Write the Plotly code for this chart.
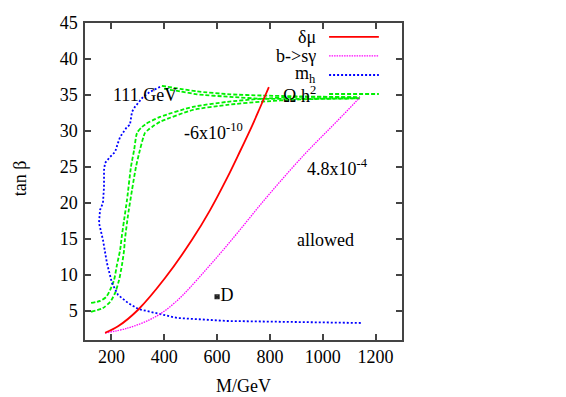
import plotly.graph_objects as go

# ---- data ----
red_x = [176, 225, 301, 403, 505, 573, 638, 687, 732, 762, 796]
red_y = [2.0, 2.9, 5.2, 9.6, 14.9, 19.0, 23.5, 27.2, 30.7, 33.2, 36.1]

mag_x = [176, 263, 346, 403, 460, 497, 558, 619, 687, 762, 838, 925, 990, 1054, 1141]
mag_y = [1.97, 2.67, 3.83, 5.08, 6.85, 8.26, 10.76, 13.32, 16.31, 19.69, 22.96, 26.53, 29.0, 31.37, 34.68]

blue_x = [384, 346, 320, 289, 278, 270, 259, 233, 225, 214, 195, 176, 172, 172, 168, 157, 153,
          161, 168, 183, 202, 225, 263, 301, 354, 403, 448, 638, 838, 1148]
blue_y = [36.14, 35.44, 34.75, 33.36, 32.67, 30.86, 30.58, 29.19, 28.36, 27.11, 26.42, 25.58,
          24.61, 22.25, 20.03, 19.06, 17.25, 15.86, 14.89, 11.69, 8.92, 7.25, 6.14, 5.31, 4.89,
          4.47, 4.06, 3.64, 3.5, 3.36]

g1_x = [123, 157, 180, 195, 210, 221, 233, 240, 248, 259, 274, 286, 297, 316, 331, 384, 509, 638, 762, 914, 1141]
g1_y = [6.14, 6.42, 6.97, 7.94, 9.33, 11.42, 13.5, 15.58, 17.67, 20.44, 25.03, 27.39, 29.75, 30.58,
        31.0, 31.97, 33.36, 34.06, 34.47, 34.75, 34.68]
g2_x = [123, 168, 195, 214, 229, 240, 248, 251, 263, 278, 293, 308, 327, 339, 354, 384, 509, 638, 762, 914, 1141]
g2_y = [4.89, 5.44, 6.28, 7.53, 9.33, 11.42, 13.5, 14.89, 18.36, 21.83, 25.03, 27.39, 29.75, 30.17,
        30.58, 31.28, 32.94, 33.64, 34.06, 34.4, 34.54]
g3_x = [391, 460, 524, 649, 774, 914, 1141]
g3_y = [36.28, 35.86, 35.51, 35.1, 34.93, 34.82, 34.68]
g4_x = [399, 460, 524, 649, 774, 914, 1141]
g4_y = [35.86, 35.51, 35.1, 34.75, 34.47, 34.47, 34.54]

point_x = [600]
point_y = [7]
point_label = ["D"]

x_ticks = [200, 400, 600, 800, 1000, 1200]
y_ticks = [5, 10, 15, 20, 25, 30, 35, 40, 45]

legend_names = ["δμ", "b->sγ", "m<sub>h</sub>", "Ω h<sup>2</sup>"]

FONT = "Liberation Serif, Times New Roman, serif"
RED, MAG, BLUE, GREEN = "#ff0000", "#ff00ff", "#0000ff", "#00f000"
BLACK = "black"

fig = go.Figure()
for gx, gy in [(g1_x, g1_y), (g2_x, g2_y), (g3_x, g3_y), (g4_x, g4_y)]:
    fig.add_trace(go.Scatter(x=gx, y=gy, mode="lines", line_shape="spline",
                             line=dict(color=GREEN, width=1.8, dash="4px,2px", smoothing=0.6),
                             showlegend=False, hoverinfo="skip"))
fig.add_trace(go.Scatter(x=blue_x, y=blue_y, mode="lines",
                         line=dict(color=BLUE, width=1.8, dash="2px,2px"), showlegend=False))
fig.add_trace(go.Scatter(x=mag_x, y=mag_y, mode="lines", line_shape="spline",
                         line=dict(color=MAG, width=1.3, dash="1.5px,1px", smoothing=1),
                         showlegend=False))
fig.add_trace(go.Scatter(x=red_x, y=red_y, mode="lines", line_shape="spline",
                         line=dict(color=RED, width=1.8, smoothing=1), showlegend=False))
fig.add_trace(go.Scatter(x=point_x, y=point_y, mode="markers+text", text=point_label,
                         textposition="middle right",
                         textfont=dict(family=FONT, size=18, color=BLACK),
                         marker=dict(symbol="square-x-open", size=4, color="#222",
                                     line=dict(width=1.2, color="#222")),
                         showlegend=False))

# texts on the chart
ann = [
    dict(x=329, y=35.0, text="111 GeV", xanchor="center", yanchor="middle"),
    dict(x=467, y=30.0, text="-6x10<sup>-10</sup>", xanchor="left", yanchor="middle"),
    dict(x=933, y=24.9, text="4.8x10<sup>-4</sup>", xanchor="left", yanchor="middle"),
    dict(x=1012, y=14.9, text="allowed", xanchor="center", yanchor="middle"),
]
for a in ann:
    fig.add_annotation(**a, showarrow=False, font=dict(family=FONT, size=18, color=BLACK))

# axis titles
fig.add_annotation(x=0.5, y=-0.145, xref="paper", yref="paper", text="M/GeV", showarrow=False,
                   xanchor="center", yanchor="middle", font=dict(family=FONT, size=18, color=BLACK))
fig.add_annotation(x=-0.205, y=0.51, xref="paper", yref="paper", text="tan β", showarrow=False,
                   textangle=-90, xanchor="center", yanchor="middle",
                   font=dict(family=FONT, size=18, color=BLACK))

# custom gnuplot-style key: text right-aligned, sample line to its right
row_y = [0.956, 0.896, 0.836, 0.776]
styles = [dict(color=RED, width=1.8), dict(color=MAG, width=1.3, dash="1.5px,1px"),
          dict(color=BLUE, width=1.8, dash="2px,2px"), dict(color=GREEN, width=1.8, dash="4px,2px")]
for name, yy, st in zip(legend_names, row_y, styles):
    fig.add_annotation(x=0.735, y=yy, xref="paper", yref="paper", text=name, showarrow=False,
                       xanchor="right", yanchor="middle",
                       font=dict(family=FONT, size=18, color=BLACK))
    fig.add_shape(type="line", xref="paper", yref="paper", x0=0.770, x1=0.927, y0=yy, y1=yy,
                  line=st)

axis_common = dict(showline=True, linecolor="#444", linewidth=1.5, mirror="allticks",
                   ticks="inside", ticklen=6, tickcolor="#444", tickwidth=1.5,
                   showgrid=False, zeroline=False, automargin=False,
                   tickfont=dict(family=FONT, size=18, color=BLACK))
fig.update_xaxes(range=[100, 1300], tickvals=x_ticks, ticktext=[str(v) for v in x_ticks],
                 **axis_common)
fig.update_yaxes(range=[1, 45], tickvals=y_ticks, ticktext=[str(v) for v in y_ticks],
                 ticklabelstandoff=2, **axis_common)

# the page body has an 8px margin, so the figure is sized to fit the 566x397 window
fig.update_layout(width=558, height=389, margin=dict(l=77, r=164, t=15, b=57),
                  plot_bgcolor="white", paper_bgcolor="white", showlegend=False)

fig.write_html("out.html")
